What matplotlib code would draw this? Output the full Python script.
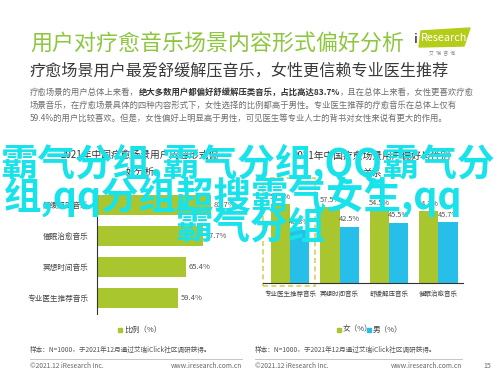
import numpy as np
import matplotlib
matplotlib.use("Agg")
import matplotlib.pyplot as plt
from matplotlib.patches import Rectangle, Polygon

plt.rcParams['font.family'] = ['Noto Sans CJK SC', 'DejaVu Sans']

# 数据
left_title = "2021年中国疗愈场景用户内容形式偏\n好分析"
left_cats = ["舒缓解压音乐", "催眠治愈音乐", "冥想时间音乐", "专业医生推荐音乐"]
left_vals = [83.7, 77.7, 65.4, 59.4]

right_title = "2021年中国疗愈场景用户偏好与性别\n关系"
right_cats = ["专业医生推荐音乐", "冥想时间音乐", "舒缓解压音乐", "催眠治愈音乐"]
female = [59.7, 57.5, 54.5, 54.3]
male = [40.3, 42.5, 45.5, 45.7]

GREEN = "#a9c62e"
BLUE = "#27bfe9"
GRAY = "#6e6e6e"

W, H = 498, 374
fig = plt.figure(figsize=(W / 100, H / 100), dpi=100)
bg = fig.add_axes([0, 0, 1, 1])
bg.set_xlim(0, W)
bg.set_ylim(H, 0)
bg.axis('off')


def box(x0, y0, x1, y1):
    # 像素坐标 -> figure 比例
    return [x0 / W, 1 - y1 / H, (x1 - x0) / W, (y1 - y0) / H]


# 标题
bg.text(30, 44, "用户对疗愈音乐场景内容形式偏好分析", fontsize=15.8, color="#8dc63f",
        va='center', ha='left')
bg.text(30, 71, "疗愈场景用户最爱舒缓解压音乐，女性更信赖专业医生推荐", fontsize=11.6,
        color="#3a3a3a", va='center', ha='left')

# logo
bg.add_patch(Polygon([[421, 31], [470, 28], [464, 46], [419, 47]], closed=True,
                     color="#b5cc18", zorder=2))
bg.text(413, 39, "i", fontsize=9, color="#555555", va='center', ha='left', weight='bold')
bg.text(421, 38, "Research", fontsize=7.8, color="white", va='center', ha='left', zorder=3)
bg.text(442, 54, "艾  瑞  咨  询", fontsize=3.5, color="#888888", va='center', ha='center')

# 正文
pfs = 6.0
t1 = bg.text(30, 92, "疗愈场景的用户总体上来看，", fontsize=pfs, color=GRAY, va='center')
t2 = bg.annotate("绝大多数用户都偏好舒缓解压类音乐，占比高达83.7%", xy=(1, 0), xycoords=t1,
                 va='bottom', ha='left', fontsize=pfs, color="#333333", weight='bold')
bg.annotate("，且在总体上来看，女性更喜欢疗愈", xy=(1, 0), xycoords=t2,
            va='bottom', ha='left', fontsize=pfs, color=GRAY)
bg.text(30, 105, "场景音乐，在疗愈场景具体的四种内容形式下，女性选择的比例都高于男性。专业医生推荐的疗愈音乐在总体上仅有",
        fontsize=pfs, color=GRAY, va='center')
bg.text(30, 118, "59.4%的用户比较喜欢。但是，女性偏好上明显高于男性，可见医生等专业人士的背书对女性来说有更大的作用。",
        fontsize=pfs, color=GRAY, va='center')

# 左图
bg.text(140, 163, left_title, fontsize=7, color="#333333", ha='center', va='center',
        linespacing=1.9)
axl = fig.add_axes(box(97, 189.5, 233, 313.5))
axl.patch.set_alpha(0)
y = np.arange(len(left_cats))
axl.barh(y, left_vals, height=0.63, color=GREEN)
axl.set_ylim(3.5, -0.5)
axl.set_xlim(0, 100)
axl.set_yticks(y)
axl.set_yticklabels(left_cats, fontsize=5.5, color="#444444")
axl.tick_params(axis='y', length=0, pad=6)
axl.set_xticks([])
for s in ['top', 'right', 'bottom']:
    axl.spines[s].set_visible(False)
axl.spines['left'].set_color("#333333")
axl.spines['left'].set_linewidth(0.8)
for yi, v in zip(y, left_vals):
    axl.text(v + 2, yi, f"{v}%", fontsize=5.5, color="#555555", va='center', ha='left')
bg.add_patch(Rectangle((118, 327.5), 4, 4, color=GREEN))
bg.text(124, 329.5, "比例（%）", fontsize=5.5, color="#444444", va='center', ha='left')

# 右图
bg.text(372, 164, right_title, fontsize=7, color="#333333", ha='center', va='center',
        linespacing=1.9)
axr = fig.add_axes(box(263, 177, 463, 283))
axr.patch.set_alpha(0)
x = np.arange(len(right_cats))
bw = 0.39
axr.bar(x - bw / 2, female, width=bw, color=GREEN)
axr.bar(x + bw / 2, male, width=bw, color=BLUE)
axr.set_xlim(-0.55, 3.5)
axr.set_ylim(0, 80)
axr.set_yticks([])
axr.set_xticks(x)
axr.set_xticklabels(right_cats, fontsize=4.7, color="#444444")
axr.tick_params(axis='x', length=0, pad=5)
for s in ['top', 'right', 'left']:
    axr.spines[s].set_visible(False)
axr.spines['bottom'].set_color("#333333")
axr.spines['bottom'].set_linewidth(0.8)
for xi, f, m in zip(x, female, male):
    axr.text(xi - bw / 2, f + 2.5, f"{f}%", fontsize=5.3, color="#555555", ha='center', va='bottom')
    axr.text(xi + bw / 2, m + 2.5, f"{m}%", fontsize=5.3, color="#555555", ha='center', va='bottom')
axr.add_patch(Rectangle((-0.55, -2.5), 1.06, 82, fill=False, ls=(0, (3, 2)),
                        ec="#d8d05a", lw=1.2, clip_on=False))
bg.add_patch(Rectangle((337, 327.5), 4, 4, color=GREEN))
bg.text(343, 329.5, "女（%）", fontsize=5.5, color="#444444", va='center', ha='left')
bg.add_patch(Rectangle((367, 327.5), 4, 4, color=BLUE))
bg.text(373, 329.5, "男（%）", fontsize=5.5, color="#444444", va='center', ha='left')

# 页脚
note = "样本：N=1000，于2021年12月通过艾瑞iClick社区调研获得。"
for x0, x1 in [(30, 242), (255, 462)]:
    bg.text(x0, 350, note, fontsize=4.8, color="#555555", va='center', ha='left')
    bg.plot([x0, x1], [359, 359], color="#bbbbbb", lw=0.6)
    bg.text(x0, 366, "©2021.12 iResearch Inc.", fontsize=4.8, color="#666666", va='center', ha='left')
    bg.text(x1, 366, "www.iresearch.com.cn", fontsize=4.8, color="#666666", va='center', ha='right')
bg.text(487, 366, "15", fontsize=5, color="#666666", va='center', ha='center')

# 覆盖的大字（放在 figure 层，压在图表上面）
CYAN = "#18e3ea"
ofs = 27
for tx, ty, s, ha in [(0, 164, "霸气分组,霸气分组,QQ霸气分", 'left'),
                      (4, 197, "组,qq分组超搜霸气女生,qq", 'left'),
                      (250, 227, "霸气分组", 'center')]:
    fig.text(tx / W, 1 - ty / H, s, fontsize=ofs, color=CYAN, weight='bold',
             va='center', ha=ha, zorder=10)

fig.savefig("out.png", dpi=100)
